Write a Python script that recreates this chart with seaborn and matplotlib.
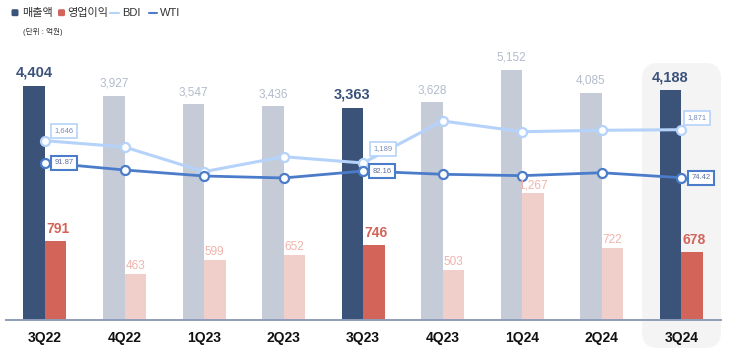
import numpy as np
import pandas as pd
import matplotlib.pyplot as plt
import seaborn as sns
from matplotlib.patches import FancyBboxPatch
from matplotlib.lines import Line2D
from matplotlib.transforms import IdentityTransform

# data (억원, BDI index, WTI $/bbl)
quarters = ['3Q22', '4Q22', '1Q23', '2Q23', '3Q23', '4Q23', '1Q24', '2Q24', '3Q24']
revenue = [4404, 3927, 3547, 3436, 3363, 3628, 5152, 4085, 4188]
profit = [791, 463, 599, 652, 746, 503, 1267, 722, 678]
bdi = [1646, 1517, 1011, 1318, 1189, 2050, 1830, 1859, 1871]
wti = [91.87, 83.4, 76.4, 74.1, 82.16, 78.4, 76.8, 80.2, 74.42]
highlight = ['3Q22', '3Q23', '3Q24']

df = pd.DataFrame({'quarter': quarters, 'revenue': revenue, 'profit': profit,
                   'bdi': bdi, 'wti': wti})
df['pos'] = np.arange(len(df))
df['hl'] = df['quarter'].isin(highlight)

# colours
NAVY, NAVY_L = '#3b5279', '#c5ccd8'
RED, RED_L = '#d2645a', '#f0cfcb'
BDI_C, WTI_C = '#b5d2fb', '#4b7cc9'

sns.set_style('white')
plt.rcParams['font.family'] = ['Liberation Sans', 'Noto Sans CJK KR']

fig = plt.figure(figsize=(7.55, 3.61), dpi=100)
ax = fig.add_axes([6 / 755, 41 / 361, 715 / 755, 280 / 361])
ax.patch.set_visible(False)
ax_pro = ax.twinx()
ax_bdi = ax.twinx()
ax_wti = ax.twinx()
px = IdentityTransform()

# highlight box behind last quarter
fig.add_artist(FancyBboxPatch((642, 13), 79, 285, boxstyle='round,pad=0,rounding_size=16',
                              transform=px, fc='#f4f4f4', ec='none', zorder=-1))

w = 0.27
REV_FLOOR = -6620
ax.set_ylim(REV_FLOOR, 6563)
ax_pro.set_ylim(0, 2800)
ax_bdi.set_ylim(-2028, 3709)
ax_wti.set_ylim(-91, 234.5)

rev_cols = [NAVY if h else NAVY_L for h in df['hl']]
pro_cols = [RED if h else RED_L for h in df['hl']]
ax.bar(df['pos'] - w / 2, df['revenue'] - REV_FLOOR, bottom=REV_FLOOR, width=w,
       color=rev_cols, linewidth=0)
ax_pro.bar(df['pos'] + w / 2, df['profit'], width=w, color=pro_cols, linewidth=0)

for _, r in df.iterrows():
    if r['hl']:
        ax.annotate(f"{r['revenue']:,}", (r['pos'] - w / 2, r['revenue']), xytext=(0, 6),
                    textcoords='offset pixels', ha='center', va='bottom',
                    fontsize=10.5, fontweight='bold', color=NAVY)
        ax_wti.annotate(f"{r['profit']:,}", (r['pos'] + w / 2, r['profit']),
                        xycoords=ax_pro.transData, xytext=(2, 5),
                        textcoords='offset pixels', ha='center', va='bottom',
                        fontsize=10, fontweight='bold', color=RED)
    else:
        ax.annotate(f"{r['revenue']:,}", (r['pos'] - w / 2, r['revenue']), xytext=(0, 6),
                    textcoords='offset pixels', ha='center', va='bottom',
                    fontsize=8.5, color='#b3bccb')
        ax_wti.annotate(f"{r['profit']:,}", (r['pos'] + w / 2, r['profit']),
                        xycoords=ax_pro.transData, xytext=(0, 2),
                        textcoords='offset pixels', ha='center', va='bottom',
                        fontsize=8.5, color='#efb3ac', zorder=5)

# lines
sns.lineplot(x=df['pos'], y=df['bdi'], ax=ax_bdi, color=BDI_C, lw=2.2, marker='o',
             markersize=6.5, markerfacecolor='white', markeredgecolor=BDI_C, markeredgewidth=1.6)
sns.lineplot(x=df['pos'], y=df['wti'], ax=ax_wti, color=WTI_C, lw=2, marker='o',
             markersize=6.5, markerfacecolor='white', markeredgecolor=WTI_C, markeredgewidth=1.6)

bdi_off = {0: (19, 10), 4: (20, 14), 8: (16, 12)}
wti_off = {0: (19, 0), 4: (19, 0), 8: (20, 0)}
for i, off in bdi_off.items():
    ax_bdi.annotate(f"{df['bdi'][i]:,}", (i, df['bdi'][i]), xytext=off, textcoords='offset pixels',
                    ha='center', va='center', fontsize=5.5, color='#7a8cbc',
                    bbox=dict(boxstyle='square,pad=0.45', fc='white', ec=BDI_C, lw=1.2))
for i, off in wti_off.items():
    ax_wti.annotate(f"{df['wti'][i]:.2f}", (i, df['wti'][i]), xytext=off, textcoords='offset pixels',
                    ha='center', va='center', fontsize=5.5, color='#5a6e9f',
                    bbox=dict(boxstyle='square,pad=0.45', fc='white', ec=WTI_C, lw=1.5))

for a in [ax, ax_pro, ax_bdi, ax_wti]:
    a.set_xlim(-0.49, 8.5)
    a.set_yticks([])
    a.set_ylabel('')
    a.set_xlabel('')
    for s in a.spines.values():
        s.set_visible(False)
ax_wti.spines['bottom'].set_visible(True)
ax_wti.spines['bottom'].set_color('#8e9dba')
ax_wti.spines['bottom'].set_linewidth(1.4)

ax.set_xticks(df['pos'])
ax.set_xticklabels(df['quarter'], fontsize=10, fontweight='bold', color='#111111')
ax.tick_params(axis='x', length=0, pad=8)

# legend (drawn by hand to match the compact header)
H = 361
ly = H - 12.7
fig.add_artist(FancyBboxPatch((11.5, ly - 3.5), 7, 7, boxstyle='round,pad=0,rounding_size=1.5',
                              transform=px, fc=NAVY, ec='none'))
fig.add_artist(FancyBboxPatch((58, ly - 3.5), 7, 7, boxstyle='round,pad=0,rounding_size=1.5',
                              transform=px, fc=RED, ec='none'))
fig.add_artist(Line2D([110, 119], [ly, ly], transform=px, color=BDI_C, lw=1.5))
fig.add_artist(Line2D([149, 157], [ly, ly], transform=px, color=WTI_C, lw=1.5))
for x0, lab in [(22.5, '매출액'), (67.5, '영업이익'), (122, 'BDI'), (159.5, 'WTI')]:
    fig.text(x0 / 755, ly / H, lab, fontsize=8, color='#333333', va='center')
fig.text(23 / 755, 1 - 32 / H, '(단위 : 억원)', fontsize=5.5, color='#333333', va='center')

fig.savefig('out.png', dpi=100)
